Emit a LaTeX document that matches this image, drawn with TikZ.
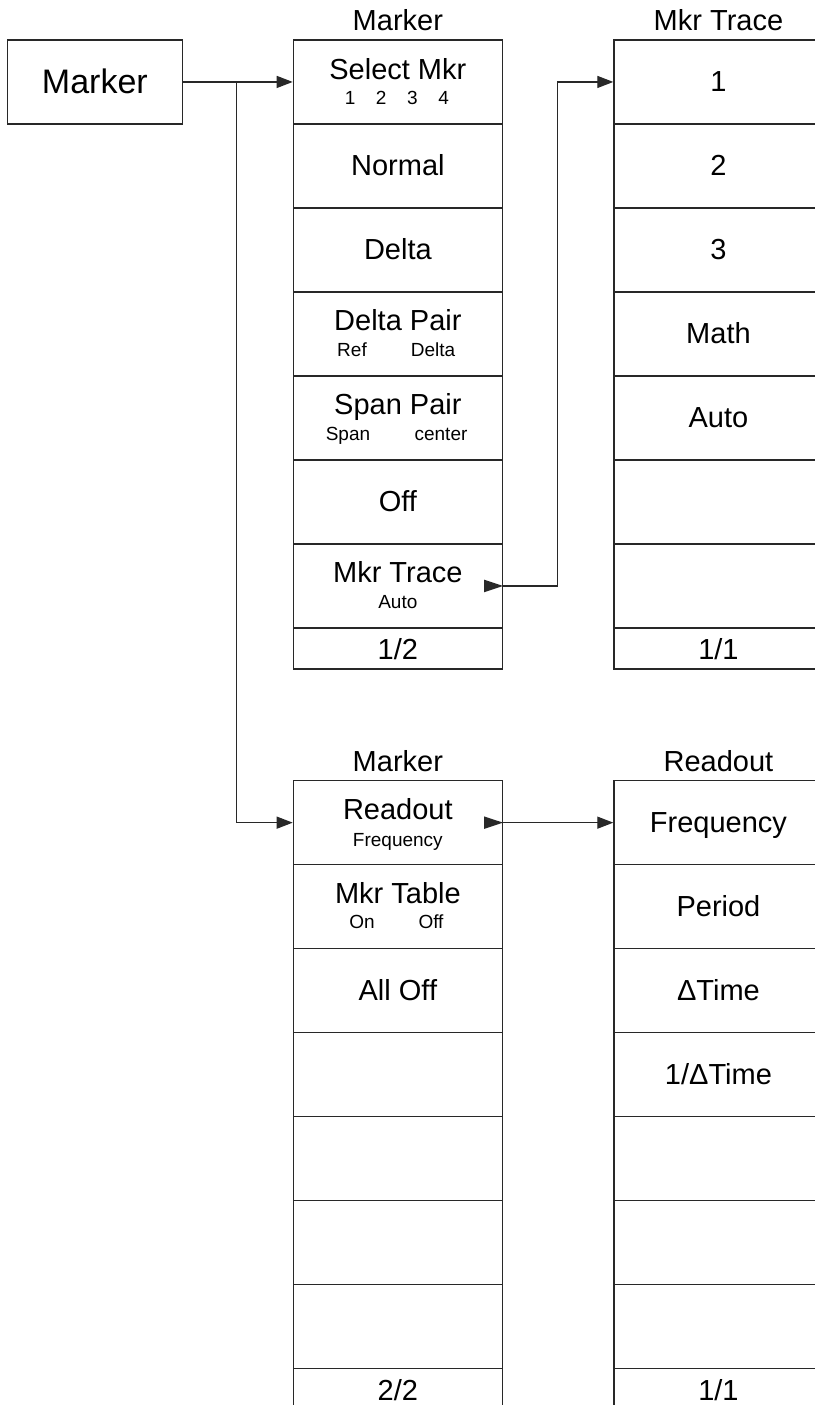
\documentclass[tikz,border=0pt]{standalone}
\usepackage{fontspec}
\setmainfont{Liberation Sans}
\usetikzlibrary{arrows.meta,calc}
\definecolor{lc}{RGB}{40,40,40}
\begin{document}
\begin{tikzpicture}[x=1pt,y=-1pt,
  cell/.style={draw=lc, line width=1.3pt, minimum width=209pt, minimum height=84pt,
    inner sep=0pt, anchor=north west, text height=20pt, text depth=0pt,
    font=\fontsize{29}{34}\selectfont},
  foot/.style={cell, minimum height=41pt, text height=22pt},
  main/.style={anchor=base, inner sep=0pt, font=\fontsize{29}{34}\selectfont},
  sub/.style={anchor=base, inner sep=0pt, font=\fontsize{19}{22}\selectfont},
  ttl/.style={anchor=base, inner sep=0pt, font=\fontsize{29}{34}\selectfont},
  arr/.style={draw=lc, line width=1.3pt, -{Triangle[length=16pt,width=12pt]}},
  link/.style={draw=lc, line width=1.3pt}
]
\useasboundingbox (0,0) rectangle (814,1405);
\fill[white] (0,0) rectangle (814,1405);

% root box
\node[draw=lc, line width=1.3pt, minimum width=175pt, minimum height=84pt, inner sep=0pt,
  anchor=north west, text height=22.8pt, text depth=0pt,
  font=\fontsize{34}{40}\selectfont] (mk) at (6.7,39.3) {Marker};

% ---------- top panel, column 1 ----------
\node[cell] (c1r1) at (292.7,39.3) {};
\node[cell] (c1r2) at (292.7,123.3) {Normal};
\node[cell] (c1r3) at (292.7,207.3) {Delta};
\node[cell] (c1r4) at (292.7,291.3) {};
\node[cell] (c1r5) at (292.7,375.3) {};
\node[cell] (c1r6) at (292.7,459.3) {Off};
\node[cell] (c1r7) at (292.7,543.3) {};
\node[foot] (c1r8) at (292.7,627.3) {1/2};
\node[ttl] (tt1) at ($(c1r1.north)+(0,-8.5)$) {Marker};

\node[main] (s1a) at ($(c1r1.center)+(0,-2.5)$) {Select Mkr};
\node[sub]  (s1b) at ($(c1r1.center)+(-1,23)$) {1\hspace{20.6pt}2\hspace{20.6pt}3\hspace{20.6pt}4};
\node[main] (s4a) at ($(c1r4.center)+(0,-3)$) {Delta Pair};
\node[sub]  (s4b) at (352,356.7) {Ref};
\node[sub]  (s4c) at (433,356.7) {Delta};
\node[main] (s5a) at ($(c1r5.center)+(0,-3)$) {Span Pair};
\node[sub]  (s5b) at (348,440.7) {Span};
\node[sub]  (s5c) at (441,440.7) {center};
\node[main] (s7a) at ($(c1r7.center)+(0,-3)$) {Mkr Trace};
\node[sub]  (s7b) at ($(c1r7.center)+(0,23)$) {Auto};

% ---------- top panel, column 2 ----------
\node[cell] (c2r1) at (613.3,39.3) {1};
\node[cell] (c2r2) at (613.3,123.3) {2};
\node[cell] (c2r3) at (613.3,207.3) {3};
\node[cell] (c2r4) at (613.3,291.3) {Math};
\node[cell] (c2r5) at (613.3,375.3) {Auto};
\node[cell] (c2r6) at (613.3,459.3) {};
\node[cell] (c2r7) at (613.3,543.3) {};
\node[foot] (c2r8) at (613.3,627.3) {1/1};
\node[ttl] (tt2) at ($(c2r1.north)+(0,-8.5)$) {Mkr Trace};

% ---------- lower panel, column 1 ----------
\node[cell] (d1r1) at (292.7,780) {};
\node[cell] (d1r2) at (292.7,864) {};
\node[cell] (d1r3) at (292.7,948) {All Off};
\node[cell] (d1r4) at (292.7,1032) {};
\node[cell] (d1r5) at (292.7,1116) {};
\node[cell] (d1r6) at (292.7,1200) {};
\node[cell] (d1r7) at (292.7,1284) {};
\node[foot] (d1r8) at (292.7,1368) {2/2};
\node[ttl] (tt3) at ($(d1r1.north)+(0,-8.5)$) {Marker};

\node[main] (r1a) at ($(d1r1.center)+(0,-3)$) {Readout};
\node[sub]  (r1b) at ($(d1r1.center)+(0,23.5)$) {Frequency};
\node[main] (r2a) at ($(d1r2.center)+(0,-3)$) {Mkr Table};
\node[sub]  (r2b) at (362,928) {On};
\node[sub]  (r2c) at (431,928) {Off};

% ---------- lower panel, column 2 ----------
\node[cell] (d2r1) at (613.3,780) {Frequency};
\node[cell] (d2r2) at (613.3,864) {Period};
\node[cell] (d2r3) at (613.3,948) {ΔTime};
\node[cell] (d2r4) at (613.3,1032) {1/ΔTime};
\node[cell] (d2r5) at (613.3,1116) {};
\node[cell] (d2r6) at (613.3,1200) {};
\node[cell] (d2r7) at (613.3,1284) {};
\node[foot] (d2r8) at (613.3,1368) {1/1};
\node[ttl] (tt4) at ($(d2r1.north)+(0,-8.5)$) {Readout};

% ---------- connectors ----------
\draw[arr] (mk.east) -- (c1r1.west);
\coordinate (jn) at (236.7,81.3);
\draw[arr] (jn) |- (d1r1.west);

\coordinate (mtj) at ($(c1r7.east)+(54.6,0)$);
\draw[arr] (c1r7.east) -- (mtj) |- (c2r1.west);
\fill[lc] (c1r7.east) -- ++(-19,-6.3) -- ++(0,12.6) -- cycle;

\draw[arr] (d1r1.east) -- (d2r1.west);
\fill[lc] (d1r1.east) -- ++(-19,-6.3) -- ++(0,12.6) -- cycle;
\end{tikzpicture}
\end{document}
